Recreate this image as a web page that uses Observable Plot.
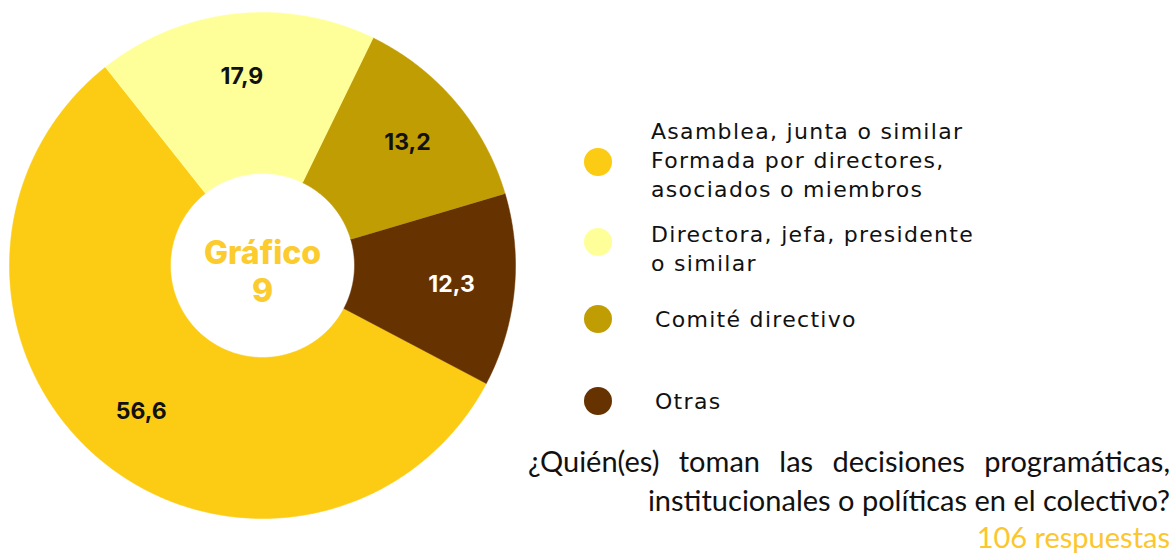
<!DOCTYPE html>
<html>
<head>
<meta charset="utf-8">
<script src="https://cdn.jsdelivr.net/npm/d3@7"></script>
<script src="https://cdn.jsdelivr.net/npm/@observablehq/plot@0.6"></script>
<style>
  html, body { margin: 0; padding: 0; background: #fff; }
  #wrap { position: relative; width: 1174px; height: 554px; overflow: hidden; background: #fff; }
  #chart { position: absolute; left: 0; top: 0; }
  .leg { position: absolute; left: 584px; display: flex; align-items: center; font-family: "DejaVu Sans", sans-serif; font-size: 22px; letter-spacing: 1.3px; line-height: 29px; color: #111; }
  .leg .dot { width: 28px; height: 28px; border-radius: 50%; flex: none; }
  #question { position: absolute; right: 4px; top: 441px; width: 642px; font-family: Lato, "Noto Sans", sans-serif; font-size: 29px; line-height: 39px; color: #111; text-align: right; }
  #question .l1 { text-align: justify; text-align-last: justify; }
  #question .resp { color: #FCC62E; line-height: 36px; }
</style>
</head>
<body>
<div id="wrap">
  <div id="chart"></div>
  <div id="question"></div>
</div>
<script>
// ---- data ----
const categories = ["Asamblea, junta o similar", "Directora, jefa, presidente o similar", "Comité directivo", "Otras"];
const legendLabels = [
  "Asamblea, junta o similar\nFormada por directores,\nasociados o miembros",
  "Directora, jefa, presidente\no similar",
  "Comité directivo",
  "Otras"
];
const values = [56.6, 17.9, 13.2, 12.3];
const valueLabels = ["56,6", "17,9", "13,2", "12,3"];
const colors = ["#FCCB13", "#FFFF99", "#C19D04", "#663300"];
const labelColors = ["#111111", "#111111", "#111111", "#FFFFFF"];
const centerTitle = "Gráfico\n9";
const questionLines = ["¿Quién(es) toman las decisiones programáticas,", "institucionales o políticas en el colectivo?"];
const responses = "106 respuestas";

// ---- geometry (layout) ----
const W = 530, H = 554;
const cx = 262, cy = 265, R = 253, r0 = 92, rLabel = 190;
const start = 117.8 * Math.PI / 180;

const arcs = d3.pie().sort(null).startAngle(start).endAngle(start + 2 * Math.PI)(values);
const pt = (a, rad) => [cx + rad * Math.sin(a), cy - rad * Math.cos(a)];

const polys = [];
arcs.forEach((a, i) => {
  const n = Math.max(4, Math.ceil((a.endAngle - a.startAngle) / (Math.PI / 360)));
  for (let k = 0; k <= n; k++) {
    const t = a.startAngle + (a.endAngle - a.startAngle) * k / n;
    const [x, y] = pt(t, R);
    polys.push({cat: categories[i], x, y});
  }
  for (let k = n; k >= 0; k--) {
    const t = a.startAngle + (a.endAngle - a.startAngle) * k / n;
    const [x, y] = pt(t, r0);
    polys.push({cat: categories[i], x, y});
  }
});

const labels = arcs.map((a, i) => {
  const m = (a.startAngle + a.endAngle) / 2;
  const [x, y] = pt(m, rLabel);
  return {x, y, text: valueLabels[i], color: labelColors[i]};
});

const plot = Plot.plot({
  width: W, height: H,
  margin: 0,
  x: {domain: [0, W], range: [0, W], axis: null},
  y: {domain: [0, H], range: [0, H], axis: null},
  color: {domain: categories, range: colors},
  style: {background: "white"},
  marks: [
    Plot.line(polys, {x: "x", y: "y", z: "cat", fill: "cat", stroke: "cat", strokeWidth: 0.5, curve: "linear"}),
    Plot.text(labels, {x: "x", y: "y", text: "text", fill: "color", fontSize: 23, fontWeight: 700, fontFamily: "Inter, 'Noto Sans', sans-serif"}),
    Plot.text([centerTitle], {x: [cx], y: [cy + 5], text: d => d, fill: "#FCCB2E", fontSize: 32, fontWeight: 800, lineHeight: 1.2, fontFamily: "Inter, 'Noto Sans', sans-serif"})
  ]
});
document.getElementById("chart").appendChild(plot);

// ---- legend (HTML) ----
const legendCenters = [160, 249, 319, 401];
const dotCenters = [162, 242, 319, 401];
const textOffsets = [39, 39, 43, 43];
const wrap = document.getElementById("wrap");
legendLabels.forEach((lab, i) => {
  const nLines = lab.split("\n").length;
  const h = nLines * 29;
  const item = document.createElement("div");
  item.className = "leg";
  item.style.top = (legendCenters[i] - h / 2) + "px";
  item.style.height = h + "px";
  const dot = document.createElement("div");
  dot.className = "dot";
  dot.style.background = colors[i];
  dot.style.position = "relative";
  dot.style.top = (dotCenters[i] - legendCenters[i]) + "px";
  const txt = document.createElement("div");
  txt.style.marginLeft = textOffsets[i] + "px";
  txt.style.whiteSpace = "pre";
  txt.textContent = lab;
  item.appendChild(dot);
  item.appendChild(txt);
  wrap.appendChild(item);
});

// ---- question ----
const q = document.getElementById("question");
const l1 = document.createElement("div"); l1.className = "l1"; l1.textContent = questionLines[0];
const l2 = document.createElement("div"); l2.textContent = questionLines[1];
const l3 = document.createElement("div"); l3.className = "resp"; l3.textContent = responses;
q.append(l1, l2, l3);
</script>
</body>
</html>
